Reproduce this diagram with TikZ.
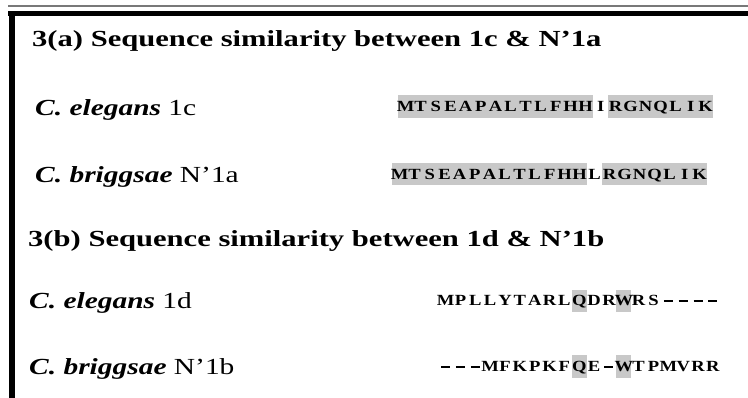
\documentclass[tikz,border=0pt]{standalone}
\usepackage{fontspec}
\usepackage{graphicx}
\setmainfont{Liberation Serif}
\definecolor{hlgray}{RGB}{200,200,200}
\definecolor{rulegray}{RGB}{120,120,120}
\newlength\seqpitch
\setlength\seqpitch{15pt}
\def\seqchar#1{\ifx#1-\rule[4.2pt]{9pt}{1.8pt}\else\scalebox{1.2}[1]{#1}\fi}
\def\seqloop#1{\ifx#1\relax\else\makebox[\seqpitch]{\seqchar{#1}}\expandafter\seqloop\fi}
\newcommand\seqtxt[2][15pt]{{\setlength\seqpitch{#1}\bfseries\fontsize{15.5}{15.5}\selectfont\seqloop#2\relax}}
\newcommand\wide[1]{\scalebox{1.33}[1]{#1}}
\newcommand\lwide[1]{\scalebox{1.28}[1]{#1}}
\tikzset{
  titletext/.style={anchor=base west, inner sep=0pt, font=\bfseries\fontsize{23}{23}\selectfont},
  labeltext/.style={anchor=base west, inner sep=0pt, font=\fontsize{23}{23}\selectfont},
  seqtext/.style={anchor=base west, inner sep=0pt},
  hl/.style={fill=hlgray, draw=none}
}
\begin{document}
\begin{tikzpicture}[x=1pt,y=-1pt]
\useasboundingbox (0,0) rectangle (748,398);
% frame
\draw[rulegray, line width=1.2pt] (8,6) -- (748,6);
\fill[black] (8,11) rectangle (748,16.5);
\fill[black] (8.5,11) rectangle (15,398);
% highlights
\fill[hl] (398,95) rectangle (593,118);
\fill[hl] (608,95) rectangle (713,118);
\fill[hl] (392,163) rectangle (587,185);
\fill[hl] (602,163) rectangle (707,185);
\fill[hl] (571.6,290) rectangle (586.5,312);
\fill[hl] (616.2,290) rectangle (631,312);
\fill[hl] (571.6,355) rectangle (586.5,378);
\fill[hl] (616.2,355) rectangle (631,378);
% texts
\node[titletext] (ta) at (32,47) {\wide{3(a) Sequence similarity between 1c \& N'1a}};
\node[labeltext] (la1) at (35,116) {\lwide{\textbf{\textit{C. elegans}} 1c}};
\node[labeltext] (la2) at (35,183) {\lwide{\textbf{\textit{C. briggsae}} N'1a}};
\node[titletext] (tb) at (28,247) {\wide{3(b) Sequence similarity between 1d \& N'1b}};
\node[labeltext] (lb1) at (29,309) {\lwide{\textbf{\textit{C. elegans}} 1d}};
\node[labeltext] (lb2) at (29,375) {\lwide{\textbf{\textit{C. briggsae}} N'1b}};
\node[seqtext] (s1) at (398,112) {\seqtxt{MTSEAPALTLFHHIRGNQLIK}};
\node[seqtext] (s2) at (392,180) {\seqtxt{MTSEAPALTLFHHLRGNQLIK}};
\node[seqtext] (s3) at (438,306) {\seqtxt[14.85pt]{MPLLYTARLQDRWRS----}};
\node[seqtext] (s4) at (438,372) {\seqtxt[14.85pt]{---MFKPKFQE-WTPMVRR}};
\end{tikzpicture}
\end{document}
